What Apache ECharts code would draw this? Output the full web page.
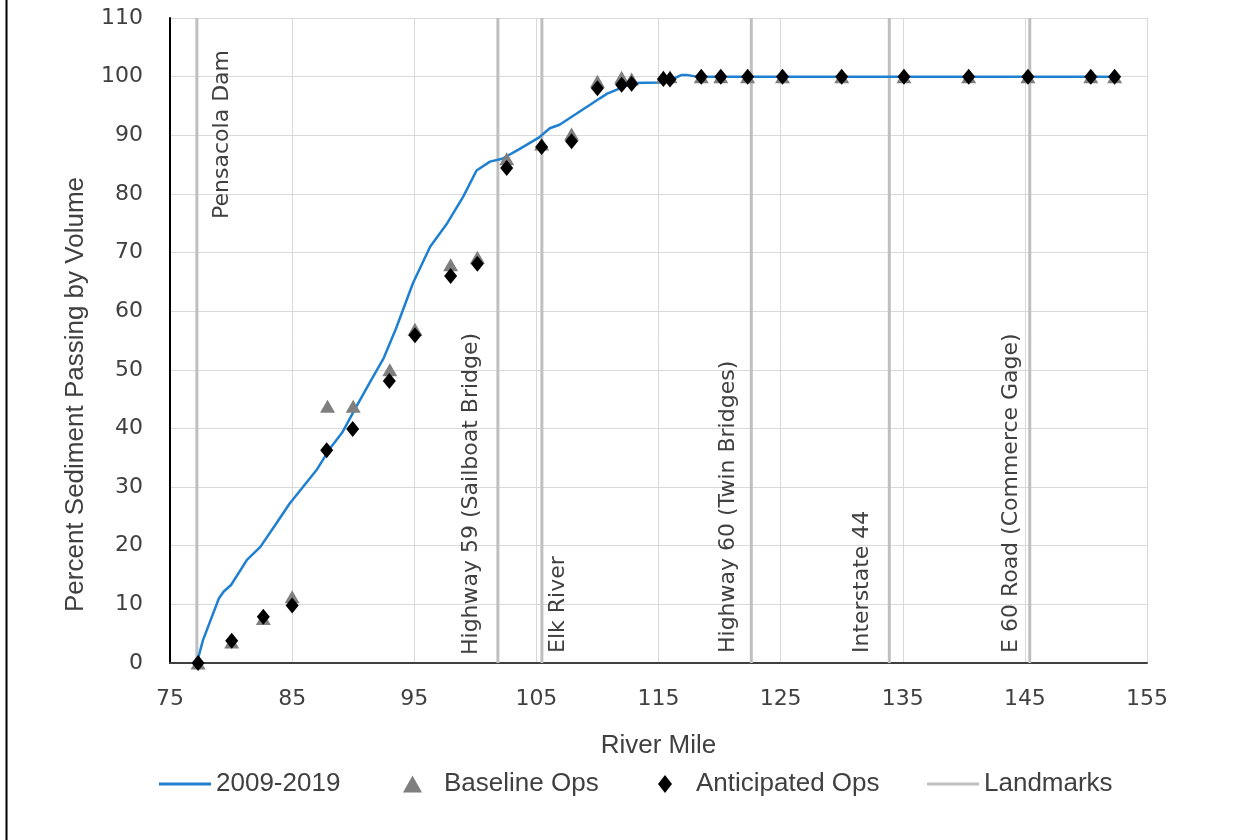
<!DOCTYPE html>
<html><head><meta charset="utf-8">
<script src="https://cdn.jsdelivr.net/npm/echarts@6/dist/echarts.min.js"></script>
<style>html,body{margin:0;padding:0;background:#fff}#c{width:1254px;height:840px}</style>
</head><body><div id="c"></div>
<script>
// 2009-2019 cumulative curve
const lineMiles = [77.2, 77.7, 79.0, 79.4, 80.0, 81.3, 82.4, 83.7, 84.8, 87.0, 88.1, 89.1, 90.2, 91.4, 92.5, 93.5, 94.9, 96.3, 97.7, 99.0, 100.1, 101.2, 102.2, 103.5, 105.2, 106.1, 106.9, 108.3, 109.4, 110.2, 110.8, 111.6, 112.9, 115.1, 116.2, 116.9, 117.3, 118.1, 125.0, 135.0, 145.0, 152.2];
const linePct   = [0, 3.9, 11.0, 12.2, 13.3, 17.6, 19.8, 23.8, 27.2, 32.9, 36.6, 39.3, 43.5, 48.0, 52.0, 57.0, 64.8, 71.0, 75.0, 79.5, 84.0, 85.5, 86.0, 87.5, 89.6, 91.2, 91.8, 93.7, 95.2, 96.3, 97.1, 97.8, 98.9, 99.0, 99.6, 100.3, 100.3, 100.0, 100.0, 100.0, 100.0, 100.0];

// Baseline Ops
const baselineMiles = [77.3, 80.05, 82.64, 85.0, 87.9, 90.0, 93.0, 95.06, 97.98, 100.17, 102.57, 105.43, 107.88, 110.0, 111.98, 112.8, 115.4, 115.94, 118.5, 120.1, 122.3, 125.15, 130.0, 135.1, 140.4, 145.25, 150.4, 152.35];
const baselinePct   = [0, 3.6, 7.6, 11.3, 43.8, 43.8, 50.0, 56.9, 67.9, 69.2, 86.0, 88.5, 90.2, 99.2, 99.9, 99.6, 100, 100, 100, 100, 100, 100, 100, 100, 100, 100, 100, 100];

// Anticipated Ops
const anticipatedMiles = [77.3, 80.05, 82.64, 85.0, 87.83, 89.96, 92.96, 95.06, 97.98, 100.17, 102.57, 105.43, 107.88, 110.0, 111.98, 112.8, 115.4, 115.94, 118.5, 120.1, 122.3, 125.15, 130.0, 135.1, 140.4, 145.25, 150.4, 152.35];
const anticipatedPct   = [0, 3.8, 7.9, 9.8, 36.3, 39.9, 48.1, 55.9, 66.0, 68.1, 84.4, 88.0, 89.0, 98.0, 98.6, 98.8, 99.6, 99.5, 100, 100, 100, 100, 100, 100, 100, 100, 100, 100];

// Landmarks
const landmarkMiles = [77.2, 101.85, 105.45, 122.6, 133.9, 145.4];
const landmarkNames = ['Pensacola Dam', 'Highway 59 (Sailboat Bridge)', 'Elk River', 'Highway 60 (Twin Bridges)', 'Interstate 44', 'E 60 Road (Commerce Gage)'];

const seriesNames = ['2009-2019', 'Baseline Ops', 'Anticipated Ops', 'Landmarks'];

// label placement (layout only)
const labelPlace = [
  {dx: 25, top: true, dy: 32},
  {dx: -27, top: false, dy: 8},
  {dx: 16, top: false, dy: 10},
  {dx: -23, top: false, dy: 10},
  {dx: -27, top: false, dy: 10},
  {dx: -18, top: false, dy: 10}
];

const zip = (a, b) => a.map((v, i) => [v, b[i]]);
const titleFont = '"Liberation Sans", Arial, sans-serif';
const tickFont = '"DejaVu Sans", Verdana, sans-serif';

const chart = echarts.init(document.getElementById('c'), null, {renderer: 'canvas'});
const legendText = {fontFamily: titleFont, fontSize: 26, color: '#404040', lineHeight: 28};
const legendCommon = {top: 770, padding: 0, itemWidth: 52, itemHeight: 3};
chart.setOption({
  animation: false,
  backgroundColor: '#fff',
  grid: {left: 170, right: 107, top: 18, bottom: 177, containLabel: false},
  graphic: [{type: 'line', shape: {x1: 6.5, y1: 0, x2: 6.5, y2: 840}, style: {stroke: '#000', lineWidth: 2}}],
  legend: [
    Object.assign({}, legendCommon, {left: 159, textStyle: legendText, data: [{name: seriesNames[0], icon: 'rect'}]}),
    Object.assign({}, legendCommon, {left: 403, itemWidth: 19, itemHeight: 17,
      textStyle: Object.assign({}, legendText, {padding: [0, 0, 0, 17]}), data: [{name: seriesNames[1], icon: 'triangle'}]}),
    Object.assign({}, legendCommon, {left: 658, itemWidth: 14, itemHeight: 18,
      textStyle: Object.assign({}, legendText, {padding: [0, 0, 0, 19]}), data: [{name: seriesNames[2], icon: 'diamond'}]}),
    Object.assign({}, legendCommon, {left: 927, textStyle: legendText, data: [{name: seriesNames[3], icon: 'rect'}]})
  ],
  xAxis: {
    type: 'value', min: 75, max: 155, interval: 10,
    axisLine: {show: true, onZero: false, lineStyle: {color: '#404040', width: 2}},
    axisTick: {show: false},
    splitLine: {show: true, lineStyle: {color: '#d9d9d9', width: 1}},
    axisLabel: {fontFamily: tickFont, fontSize: 22, color: '#404040', margin: 25},
    name: 'River Mile', nameLocation: 'middle', nameGap: 69,
    nameTextStyle: {fontFamily: titleFont, fontSize: 26, color: '#404040', lineHeight: 28}
  },
  yAxis: {
    type: 'value', min: 0, max: 110, interval: 10,
    axisLine: {show: true, lineStyle: {color: '#000', width: 2}},
    axisTick: {show: false},
    splitLine: {show: true, lineStyle: {color: '#d9d9d9', width: 1}},
    axisLabel: {fontFamily: tickFont, fontSize: 22, color: '#404040', margin: 27},
    name: 'Percent Sediment Passing by Volume', nameLocation: 'middle', nameGap: 70,
    nameTextStyle: {fontFamily: titleFont, fontSize: 26, color: '#404040', lineHeight: 28, padding: [0, 108, 0, 0]}
  },
  series: [
    {
      name: seriesNames[3], type: 'custom', z: 1,
      itemStyle: {color: '#bfbfbf'},
      encode: {x: 0, y: 1},
      data: landmarkMiles.map(m => [m, 0]),
      renderItem: function (params, api) {
        const x = api.value(0);
        const b = api.coord([x, 0]);
        const t = api.coord([x, 110]);
        const i = params.dataIndex;
        const pl = labelPlace[i];
        const tx = b[0] + pl.dx;
        const ty = pl.top ? t[1] + pl.dy : b[1] - pl.dy;
        return {
          type: 'group',
          children: [
            {type: 'line', shape: {x1: b[0], y1: b[1], x2: t[0], y2: t[1]}, style: {stroke: '#bfbfbf', lineWidth: 3}},
            {type: 'text', x: tx, y: ty, rotation: Math.PI / 2,
              style: {text: landmarkNames[i], font: '22px "DejaVu Sans", Verdana, sans-serif', fill: '#404040',
                align: pl.top ? 'right' : 'left', verticalAlign: 'middle'}}
          ]
        };
      }
    },
    {
      name: seriesNames[0], type: 'line', z: 2, symbol: 'none', smooth: false,
      lineStyle: {color: '#1f7fd1', width: 2.5}, itemStyle: {color: '#1f7fd1'},
      data: zip(lineMiles, linePct)
    },
    {
      name: seriesNames[1], type: 'scatter', z: 3, symbol: 'triangle', symbolSize: [15, 13],
      itemStyle: {color: '#7f7f7f', opacity: 1},
      data: zip(baselineMiles, baselinePct)
    },
    {
      name: seriesNames[2], type: 'scatter', z: 4, symbol: 'diamond', symbolSize: [13, 16],
      itemStyle: {color: '#000', opacity: 1},
      data: zip(anticipatedMiles, anticipatedPct)
    }
  ]
});
</script></body></html>
